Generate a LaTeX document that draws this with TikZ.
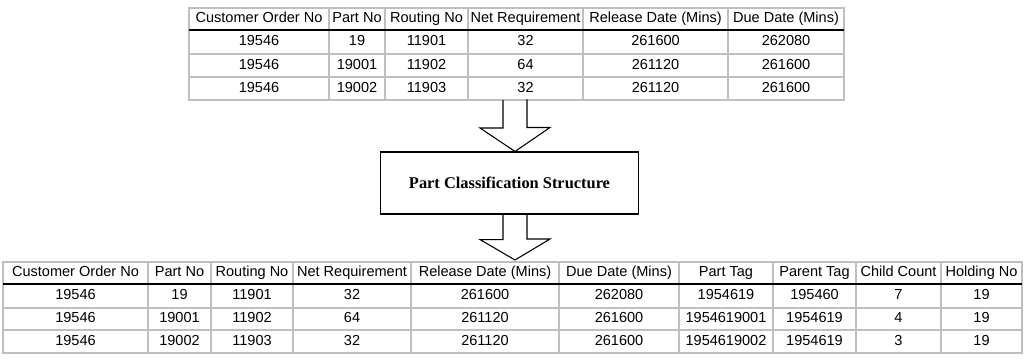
\documentclass[tikz,border=0pt]{standalone}
\usepackage{fontspec}
\setmainfont{Liberation Serif}
\setsansfont{Liberation Sans}
\begin{document}
\begin{tikzpicture}[x=0.75pt,y=-0.75pt,
    cell/.style={font=\sffamily\fontsize{10.9}{13}\selectfont,text height=8pt,text depth=2.4pt,inner sep=0pt},
    grid line/.style={draw=black!25,line width=1.3pt},
    head line/.style={draw=black,line width=1pt},
    fat arrow/.style={draw,line width=0.8pt,line join=miter},
    main box/.style={draw,line width=0.8pt,minimum width=194pt,minimum height=46.5pt,inner sep=0pt,font=\rmfamily\bfseries\fontsize{12.3}{14}\selectfont}]
  \useasboundingbox (0,0) rectangle (1027,358);

  % input table
  \draw[grid line] (189,8) rectangle (844,100);
  \foreach \x in {329,385,468,583,728} \draw[grid line] (\x,8) -- (\x,100);
  \foreach \y in {54,77} \draw[grid line] (189,\y) -- (844,\y);
  \draw[head line] (189,30) -- (844,30);

  \foreach \x/\t [count=\c] in {259/Customer Order No,357/Part No,426.5/Routing No,525.5/Net Requirement,655.5/Release Date (Mins),786/Due Date (Mins)}
    \node[cell] (in-h\c) at (\x,19) {\t};
  \foreach \y/\a/\b/\cc/\d/\e/\f [count=\r] in {
      42/19546/19/11901/32/261600/262080,
      65.5/19546/19001/11902/64/261120/261600,
      88.5/19546/19002/11903/32/261120/261600}{
    \node[cell] (in-\r-1) at (259,\y) {\a};
    \node[cell] (in-\r-2) at (357,\y) {\b};
    \node[cell] (in-\r-3) at (426.5,\y) {\cc};
    \node[cell] (in-\r-4) at (525.5,\y) {\d};
    \node[cell] (in-\r-5) at (655.5,\y) {\e};
    \node[cell] (in-\r-6) at (786,\y) {\f};
  }

  % classification step
  \node[main box] (pcs) at (509.5,183) {Part Classification Structure};
  \coordinate (in1) at (515,100);
  \coordinate (out1) at (515,260);
  \draw[fat arrow] (in1) ++(-12,0) -- ++(0,28) -- ++(-23,0) -- (in1 |- pcs.north) -- ++(35,-24) -- ++(-23,0) -- ++(0,-28);
  \draw[fat arrow] (pcs.south -| in1) ++(-12,0) -- ++(0,25) -- ++(-23,0) -- (out1) -- ++(35,-21) -- ++(-23,0) -- ++(0,-25);

  % output table
  \draw[grid line] (3,262) rectangle (1022,353);
  \foreach \x in {148,211,293,411,559,679,773,856,941} \draw[grid line] (\x,262) -- (\x,353);
  \foreach \y in {308,330} \draw[grid line] (3,\y) -- (1022,\y);
  \draw[head line] (3,284) -- (1022,284);

  \foreach \x/\t [count=\c] in {75.5/Customer Order No,179.5/Part No,252/Routing No,352/Net Requirement,485/Release Date (Mins),619/Due Date (Mins),726/Part Tag,814.5/Parent Tag,898.5/Child Count,981.5/Holding No}
    \node[cell] (out-h\c) at (\x,273) {\t};
  \foreach \y/\a/\b/\cc/\d/\e/\f/\g/\h/\i/\j [count=\r] in {
      296/19546/19/11901/32/261600/262080/1954619/195460/7/19,
      319/19546/19001/11902/64/261120/261600/1954619001/1954619/4/19,
      341.5/19546/19002/11903/32/261120/261600/1954619002/1954619/3/19}{
    \node[cell] (out-\r-1) at (75.5,\y) {\a};
    \node[cell] (out-\r-2) at (179.5,\y) {\b};
    \node[cell] (out-\r-3) at (252,\y) {\cc};
    \node[cell] (out-\r-4) at (352,\y) {\d};
    \node[cell] (out-\r-5) at (485,\y) {\e};
    \node[cell] (out-\r-6) at (619,\y) {\f};
    \node[cell] (out-\r-7) at (726,\y) {\g};
    \node[cell] (out-\r-8) at (814.5,\y) {\h};
    \node[cell] (out-\r-9) at (898.5,\y) {\i};
    \node[cell] (out-\r-10) at (981.5,\y) {\j};
  }
\end{tikzpicture}
\end{document}
